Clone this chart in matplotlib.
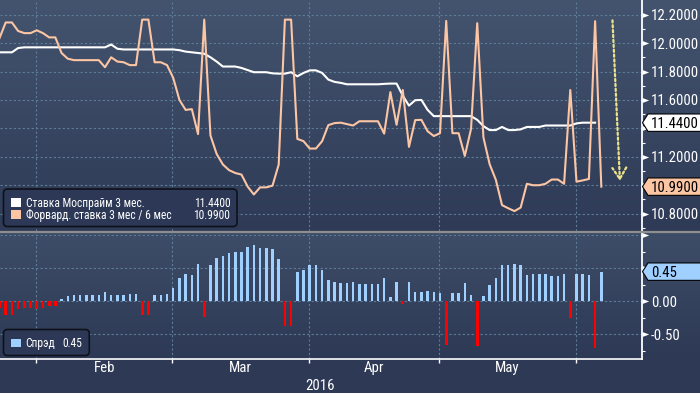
import numpy as np
import matplotlib
matplotlib.use('Agg')
import matplotlib.pyplot as plt
from matplotlib.patches import Polygon, FancyBboxPatch, Rectangle
from matplotlib.lines import Line2D
from matplotlib import transforms as mtransforms
from matplotlib import font_manager

# ---------------- data ----------------
mosprime = [11.935, 11.935, 11.935, 11.965, 11.97, 11.97, 11.97, 11.97, 11.97, 11.97,
            11.97, 11.97, 11.97, 11.97, 11.97, 11.97, 11.97, 11.97, 11.99, 11.96,
            11.955, 11.955, 11.955, 11.955, 11.955, 11.955, 11.955, 11.955, 11.955, 11.95,
            11.94, 11.935, 11.93, 11.925, 11.90, 11.87, 11.835, 11.835, 11.835, 11.825,
            11.81, 11.795, 11.795, 11.795, 11.787, 11.785, 11.785, 11.795, 11.766, 11.79,
            11.808, 11.808, 11.79, 11.743, 11.727, 11.72, 11.71, 11.71, 11.71, 11.71,
            11.71, 11.71, 11.713, 11.715, 11.715, 11.63, 11.56, 11.598, 11.60, 11.53,
            11.486, 11.486, 11.486, 11.486, 11.486, 11.486, 11.486, 11.46, 11.416, 11.388,
            11.388, 11.41, 11.388, 11.388, 11.393, 11.41, 11.41, 11.41, 11.42, 11.42,
            11.42, 11.42, 11.42, 11.435, 11.44, 11.44, 11.44, np.nan]

forward = [12.035, 12.145, 12.145, 12.085, 12.07, 12.07, 12.09, 12.07, 12.04, 12.04,
           11.93, 11.89, 11.88, 11.88, 11.88, 11.88, 11.88, 11.83, 11.90, 11.87,
           11.865, 11.845, 11.845, 12.165, 12.165, 11.865, 11.865, 11.845, 11.755, 11.60,
           11.53, 11.535, 11.36, 12.165, 11.35, 11.22, 11.146, 11.106, 11.086, 11.075,
           10.99, 10.935, 10.985, 10.985, 10.997, 11.145, 12.165, 12.165, 11.326, 11.31,
           11.258, 11.258, 11.31, 11.423, 11.437, 11.44, 11.43, 11.42, 11.45, 11.45,
           11.45, 11.45, 11.363, 11.655, 11.425, 11.67, 11.27, 11.458, 11.46, 11.38,
           11.346, 11.366, 12.156, 11.366, 11.366, 11.206, 11.396, 12.14, 11.336, 11.148,
           11.038, 10.86, 10.838, 10.818, 10.843, 11.01, 11.00, 11.00, 11.01, 11.04,
           11.04, 11.01, 11.67, 11.025, 11.034, 11.044, 12.154, 10.99]

spread = [-0.10, -0.21, -0.21, -0.12, -0.10, -0.10, -0.12, -0.10, -0.07, -0.07,
          0.04, 0.08, 0.09, 0.09, 0.09, 0.09, 0.09, 0.14, 0.09, 0.09,
          0.09, 0.11, 0.11, -0.21, -0.21, 0.09, 0.09, 0.11, 0.20, 0.35,
          0.41, 0.40, 0.57, -0.24, 0.55, 0.65, 0.69, 0.73, 0.75, 0.75,
          0.82, 0.86, 0.81, 0.81, 0.79, 0.64, -0.38, -0.37, 0.44, 0.48,
          0.55, 0.55, 0.48, 0.32, 0.29, 0.28, 0.28, 0.29, 0.26, 0.26,
          0.26, 0.26, 0.35, 0.06, 0.29, -0.04, 0.29, 0.14, 0.14, 0.15,
          0.14, 0.12, -0.67, 0.12, 0.12, 0.28, 0.09, -0.68, 0.08, 0.24,
          0.35, 0.55, 0.55, 0.57, 0.55, 0.40, 0.41, 0.41, 0.41, 0.38,
          0.38, 0.41, -0.25, 0.41, 0.41, 0.40, -0.71, 0.45]

month_labels = ['Feb', 'Mar', 'Apr', 'May']
year_label = '2016'
legend_names = ['Ставка Моспрайм 3 мес.', 'Форвард. ставка 3 мес / 6 мес']
spread_name = 'Спрэд'
last_mosprime = 11.44
last_forward = 10.99
last_spread = 0.45
top_ticks = [12.2, 12.0, 11.8, 11.6, 11.4, 11.2, 11.0, 10.8]
top_labeled = [12.2, 12.0, 11.8, 11.6, 11.2, 10.8]   # 11.4 / 11.0 sit under the value tags
top_minor = [12.1, 11.9, 11.7, 11.5, 11.3, 11.1, 10.9, 10.7]
bot_ticks = [1.0, 0.5, 0.0, -0.5]
bot_labeled = [0.0, -0.5]                            # 0.50 sits under the value tag
bot_minor = [0.75, 0.25, -0.25, -0.75]

# month boundaries on the trading-day axis
month_edges = [5.9, 27.85, 49.9, 70.9, 92.9]

# ---------------- style ----------------
avail = {f.name for f in font_manager.fontManager.ttflist}
FONT = next((f for f in ['Liberation Sans Narrow', 'Roboto Condensed', 'Liberation Sans']
             if f in avail), 'DejaVu Sans')
plt.rcParams['font.family'] = [FONT, 'DejaVu Sans']

W, H = 700, 393
C_WHITE = '#ffffff'
C_SALMON = '#fcc5a4'
C_BLUE = '#9fd0ff'
C_RED = '#ff0000'
C_GRID = '#5d7d97'
FS = 10.7
ID = mtransforms.IdentityTransform()


def fy(y):
    return 1 - y / H


fig = plt.figure(figsize=(W / 100, H / 100), dpi=100)
fig.patch.set_facecolor('#2d3955')

# background gradient
bg = fig.add_axes([0, 0, 1, 1], zorder=-10)
rows = np.zeros((H, 1, 3))
c_t1 = np.array([68, 84, 110]) / 255
c_b1 = np.array([46, 58, 86]) / 255
c_t2 = np.array([62, 77, 103]) / 255
c_b2 = np.array([45, 57, 85]) / 255
for y in range(H):
    if y <= 231:
        t = y / 231
        c = c_t1 * (1 - t) + c_b1 * t
    elif y <= 359:
        t = (y - 232) / 127
        c = c_t2 * (1 - t) + c_b2 * t
    else:
        c = c_b2
    rows[y, 0] = c
bg.imshow(rows, aspect='auto', extent=[0, 1, 0, 1], interpolation='nearest')
bg.set_axis_off()

R = 641.7 / W
ax1 = fig.add_axes([0, fy(231), R, fy(0) - fy(231)])
ax2 = fig.add_axes([0, fy(359.3), R, fy(233.5) - fy(359.3)])

x = np.arange(len(forward))
XL = (0.08, 103.51)

for ax in (ax1, ax2):
    ax.set_facecolor('none')
    ax.set_xlim(*XL)
    for s in ('left', 'top'):
        ax.spines[s].set_visible(False)
    ax.spines['right'].set_color('white')
    ax.spines['right'].set_linewidth(1.3)
    for e in month_edges:
        ax.axvline(e, color=C_GRID, lw=0.8, ls=(0, (2, 2)), zorder=1)
ax1.spines['bottom'].set_visible(False)
ax2.spines['bottom'].set_color('white')
ax2.spines['bottom'].set_linewidth(1.2)

# ---- top panel ----
ax1.set_ylim(10.678, 12.303)
for v in top_ticks:
    ax1.axhline(v, color=C_GRID, lw=0.8, ls=(0, (2, 2)), zorder=1)
ax1.plot(x, mosprime, color=C_WHITE, lw=1.5, zorder=3)
ax1.plot(x, forward, color=C_SALMON, lw=1.5, zorder=4)
ax1.set_xticks([])
ax1.yaxis.tick_right()
ax1.set_yticks(top_labeled)
ax1.set_yticklabels([f'{v:.4f}' for v in top_labeled])
ax1.set_yticks(top_minor, minor=True)
ax1.tick_params(axis='y', which='major', length=0, pad=6.7, labelsize=FS,
                labelcolor='white')
ax1.tick_params(axis='y', which='minor', length=2.5, width=0.8, color='white',
                direction='out')

# ---- bottom panel ----
ax2.set_ylim(-0.883, 1.03)
for v in bot_ticks:
    ax2.axhline(v, color=C_GRID, lw=0.8, ls=(0, (2, 2)), zorder=1)
colors = [C_BLUE if v >= 0 else C_RED for v in spread]
widths = [0.4 if v >= 0 else 0.44 for v in spread]
ax2.bar(x, spread, width=widths, color=colors, zorder=3)
ax2.yaxis.tick_right()
ax2.set_yticks(bot_labeled)
ax2.set_yticklabels([f'{v:.2f}' for v in bot_labeled])
ax2.set_yticks(bot_minor, minor=True)
ax2.tick_params(axis='y', which='major', length=0, pad=6.7, labelsize=FS,
                labelcolor='white')
ax2.tick_params(axis='y', which='minor', length=2.5, width=0.8, color='white',
                direction='out')
mids = [(month_edges[i] + month_edges[i + 1]) / 2 for i in range(len(month_labels))]
ax2.set_xticks(month_edges)
ax2.set_xticklabels([])
ax2.set_xticks(mids, minor=True)
ax2.set_xticklabels(month_labels, minor=True)
ax2.tick_params(axis='x', which='major', length=3, width=1, color='white', direction='out')
ax2.tick_params(axis='x', which='minor', length=0, pad=1.5, labelsize=FS, labelcolor='white')

# triangle markers on major ticks
tri = [(0, -0.375), (1, 0), (0, 0.375)]
for ax, ticks in ((ax1, top_ticks), (ax2, bot_ticks)):
    tr = mtransforms.blended_transform_factory(ax.transAxes, ax.transData)
    ax.plot([1.0] * len(ticks), ticks, ls='none', marker=tri, ms=9.6, color='white',
            mec='white', mew=0, transform=tr, clip_on=False, zorder=6)

fig.text(320 / W, fy(390), year_label, ha='center', va='baseline', fontsize=FS, color='white')

# separator
fig.add_artist(Line2D([0, 1], [fy(232.3)] * 2, transform=fig.transFigure,
                      color='#8e8e8e', lw=1.6, zorder=20))

# dotted arrow
ax1.annotate('', xy=(100.0, 11.03), xytext=(98.8, 12.16),
             arrowprops=dict(arrowstyle='->,head_length=0.8,head_width=0.5',
                             color='#ece48a', lw=1.6, linestyle=(0, (1, 1.2)),
                             shrinkA=0, shrinkB=0),
             annotation_clip=False, zorder=5)


# value tags
def tag(ax, val, text, fc):
    yd = ax.transData.transform((0, val))[1]
    poly = Polygon([(642.5, yd), (648, yd + 8.7), (702, yd + 8.7), (702, yd - 8.7),
                    (648, yd - 8.7)], closed=True, transform=ID, fc=fc, ec='black',
                   lw=0.8, zorder=30)
    fig.add_artist(poly)
    fig.text(651, yd, text, transform=ID, ha='left', va='center_baseline',
             fontsize=FS, color='black', zorder=31)


tag(ax1, last_mosprime, f'{last_mosprime:.4f}', C_WHITE)
tag(ax1, last_forward, f'{last_forward:.4f}', C_SALMON)
tag(ax2, last_spread, f'{last_spread:.2f}', C_BLUE)

# legends
LFS = 8.3
box1 = FancyBboxPatch((3.5, H - 226.5), 233.5, 37.5,
                      boxstyle='round,pad=0,rounding_size=4', transform=ID,
                      fc='#2c3855', ec='#0d1119', lw=1.2, zorder=25)
fig.add_artist(box1)
for i, (name, val, col) in enumerate(zip(legend_names, [last_mosprime, last_forward],
                                         [C_WHITE, C_SALMON])):
    base = [206.7, 219.3][i]
    fig.add_artist(Rectangle((11, H - base), 9.5, 9, transform=ID, fc=col, ec='none',
                             zorder=26))
    fig.text(25.5, H - base, name, transform=ID, ha='left', va='baseline',
             fontsize=LFS, color='white', zorder=27)
    fig.text(230.3, H - base, f'{val:.4f}', transform=ID, ha='right', va='baseline',
             fontsize=LFS, color='white', zorder=27)

box2 = FancyBboxPatch((3.5, H - 355.5), 85.8, 26,
                      boxstyle='round,pad=0,rounding_size=4', transform=ID,
                      fc='#2c3855', ec='#0d1119', lw=1.2, zorder=25)
fig.add_artist(box2)
fig.add_artist(Rectangle((11.3, H - 347.3), 9.4, 8.5, transform=ID, fc=C_BLUE,
                         ec='none', zorder=26))
fig.text(25.5, H - 347.3, spread_name, transform=ID, ha='left',
         va='baseline', fontsize=LFS, color='white', zorder=27)
fig.text(82, H - 347.3, f'{last_spread:.2f}', transform=ID, ha='right',
         va='baseline', fontsize=LFS, color='white', zorder=27)

fig.savefig('out.png', dpi=100, facecolor=fig.get_facecolor())
